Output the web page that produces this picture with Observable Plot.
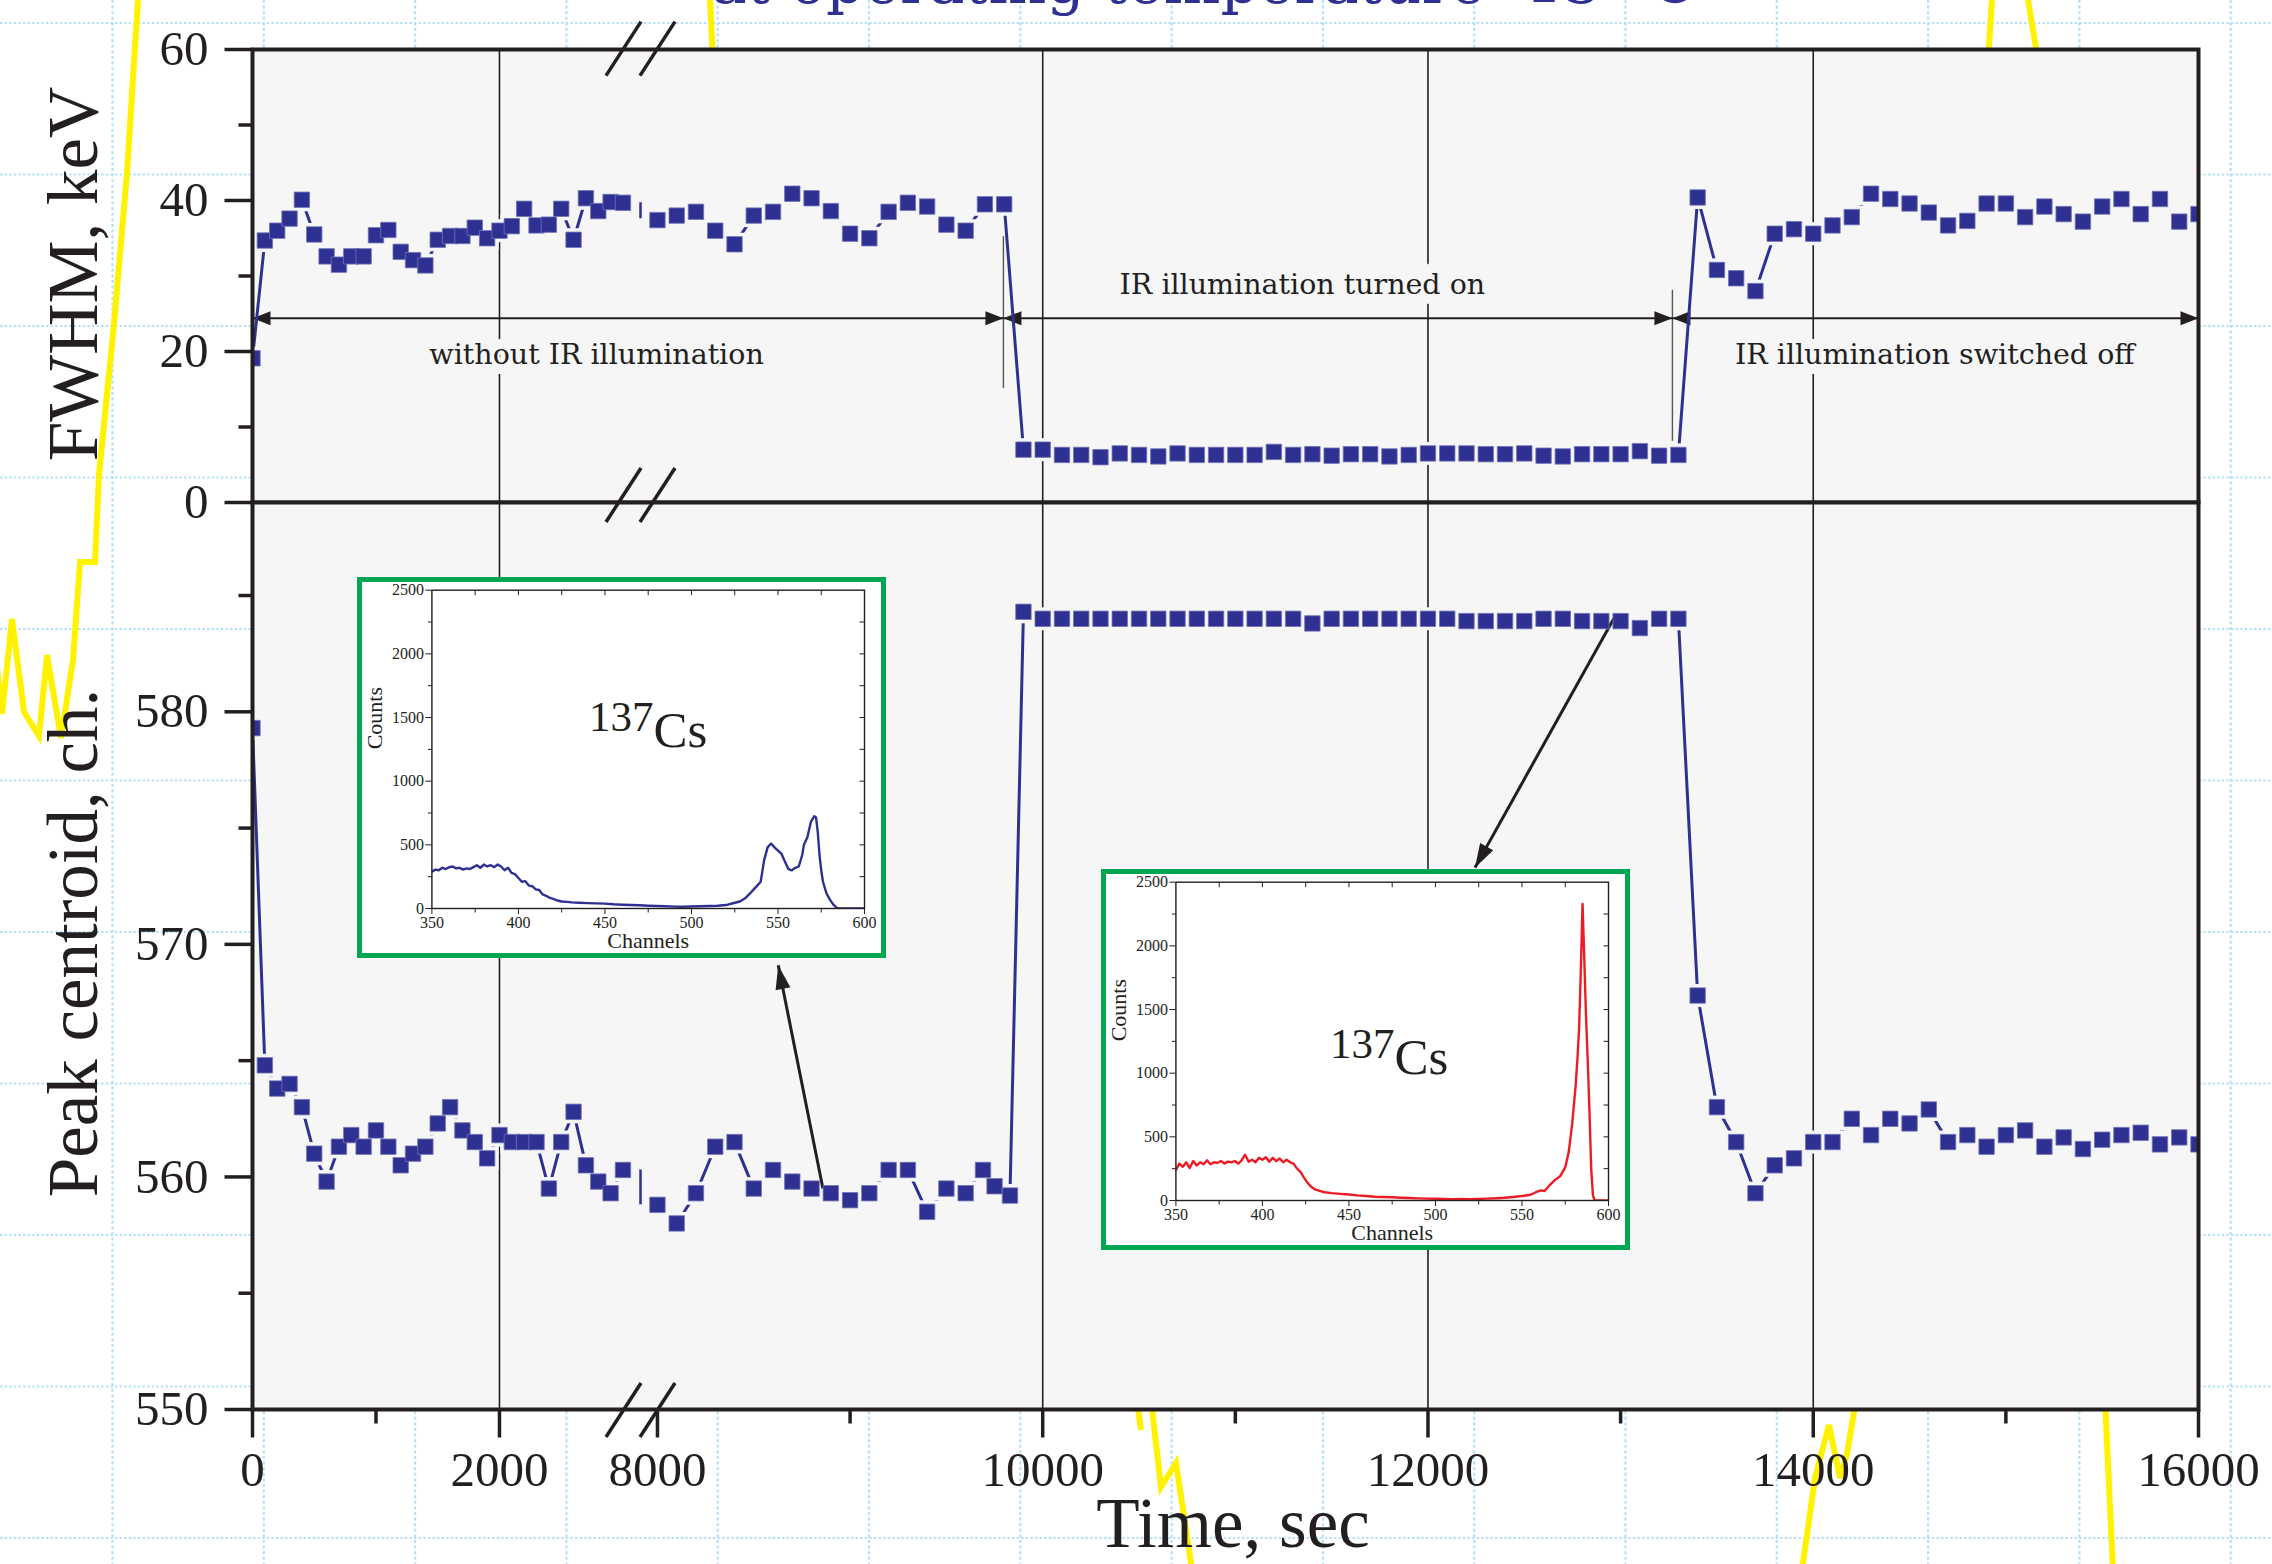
<!DOCTYPE html>
<html>
<head>
<meta charset="utf-8">
<script src="https://cdn.jsdelivr.net/npm/d3@7"></script>
<script src="https://cdn.jsdelivr.net/npm/@observablehq/plot@0.6"></script>
<style>
  html, body { margin: 0; padding: 0; background: #ffffff; }
  #page { position: relative; width: 2272px; height: 1564px; overflow: hidden; background: #ffffff; }
  #page > svg { position: absolute; left: 0; top: 0; }
  .inset { position: absolute; box-sizing: border-box; border: 5px solid #00a651; background: #ffffff; }
  .inset > svg { display: block; overflow: visible; }
</style>
</head>
<body>
<div id="page"></div>
<script>
// ================= DATA =================
const fwhmTime = [0,100,200,300,400,500,600,700,800,900,1000,1100,1200,1300,1400,1500,1600,1700,1800,1900,2000,2100,2200,2300,2400,2500,2600,2700,2800,2900,3000,
  8000,8100,8200,8300,8400,8500,8600,8700,8800,8900,9000,9100,9200,9300,9400,9500,9600,9700,9800,9900,
  10000,10100,10200,10300,10400,10500,10600,10700,10800,10900,11000,11100,11200,11300,11400,11500,11600,11700,11800,11900,
  12000,12100,12200,12300,12400,12500,12600,12700,12800,12900,13000,13100,13200,13300,13400,13500,13600,13700,13800,13900,
  14000,14100,14200,14300,14400,14500,14600,14700,14800,14900,15000,15100,15200,15300,15400,15500,15600,15700,15800,15900,16000];
const fwhmValues = [19.1,34.7,36.0,37.6,40.1,35.5,32.6,31.5,32.6,32.6,35.4,36.1,33.2,32.1,31.4,34.8,35.3,35.3,36.4,35.0,36.0,36.6,38.9,36.7,36.8,38.9,34.8,40.3,38.6,39.8,39.7,
  37.4,38.0,38.5,36.0,34.2,38.0,38.5,40.9,40.3,38.6,35.6,35.0,38.5,39.7,39.2,36.8,36.0,39.5,39.5,7.0,
  7.0,6.3,6.3,6.0,6.5,6.3,6.1,6.5,6.3,6.3,6.3,6.3,6.7,6.3,6.4,6.2,6.4,6.4,6.1,6.3,
  6.5,6.5,6.5,6.4,6.4,6.5,6.2,6.1,6.4,6.4,6.4,6.8,6.2,6.3,40.4,30.8,29.7,28.0,35.6,36.2,
  35.6,36.7,37.8,40.9,40.2,39.6,38.4,36.7,37.3,39.6,39.6,37.8,39.2,38.2,37.2,39.2,40.2,38.2,40.2,37.2,38.2];

const centroidTime = [0,100,200,300,400,500,600,700,800,900,1000,1100,1200,1300,1400,1500,1600,1700,1800,1900,2000,2100,2200,2300,2400,2500,2600,2700,2800,2900,3000,
  8000,8100,8200,8300,8400,8500,8600,8700,8800,8900,9000,9100,9200,9300,9400,9500,9600,9690,9750,9830,9900,
  10000,10100,10200,10300,10400,10500,10600,10700,10800,10900,11000,11100,11200,11300,11400,11500,11600,11700,11800,11900,
  12000,12100,12200,12300,12400,12500,12600,12700,12800,12900,13000,13100,13200,13300,13400,13500,13600,13700,13800,13900,
  14000,14100,14200,14300,14400,14500,14600,14700,14800,14900,15000,15100,15200,15300,15400,15500,15600,15700,15800,15900,16000];
const centroidValues = [579.3,564.8,563.8,564.0,563.0,561.0,559.8,561.3,561.8,561.3,562.0,561.3,560.5,561.0,561.3,562.3,563.0,562.0,561.5,560.8,561.8,561.5,561.5,561.5,559.5,561.5,562.8,560.5,559.8,559.3,560.3,
  558.8,558.0,559.3,561.3,561.5,559.5,560.3,559.8,559.5,559.3,559.0,559.3,560.3,560.3,558.5,559.5,559.3,560.3,559.6,559.2,584.3,
  584.0,584.0,584.0,584.0,584.0,584.0,584.0,584.0,584.0,584.0,584.0,584.0,584.0,584.0,583.8,584.0,584.0,584.0,584.0,584.0,
  584.0,584.0,583.9,583.9,583.9,583.9,584.0,584.0,583.9,583.9,583.9,583.6,584.0,584.0,567.8,563.0,561.5,559.3,560.5,560.8,
  561.5,561.5,562.5,561.8,562.5,562.3,562.9,561.5,561.8,561.3,561.8,562.0,561.3,561.7,561.2,561.6,561.8,561.9,561.4,561.7,561.4];

// inset spectra (channel, counts)
const darkChannels = [350,352,354,356,358,360,362,364,366,368,370,372,374,376,378,380,382,384,386,388,390,392,394,396,398,400,402,404,406,408,410,412,414,416,418,420,
  422,425,428,431,435,440,445,450,455,460,465,470,475,480,485,490,495,500,505,510,515,520,525,
  528,531,534,536,538,540,542,544,546,548,550,552,554,556,558,560,562,564,565,567,569,571,572,573,574,575,576,578,580,582,584,586,590,595,600];
const darkCounts = [290,305,300,320,310,325,330,315,320,305,315,310,325,340,320,345,330,340,325,345,330,300,320,280,270,240,210,215,180,175,150,145,110,100,85,75,
  65,55,52,48,45,42,40,38,33,30,28,25,22,20,18,15,14,16,18,20,22,27,45,
  55,80,120,150,180,210,380,480,510,480,455,430,370,310,300,320,330,420,500,560,680,725,715,600,420,300,210,120,70,30,5,0,0,0,0];
const irChannels = [350,352,354,356,358,360,362,364,366,368,370,372,374,376,378,380,382,384,386,388,390,392,394,396,398,400,402,404,406,408,410,412,414,416,418,420,
  422,424,426,428,430,433,436,440,445,450,455,460,465,470,475,480,485,490,495,500,505,510,515,520,525,530,535,540,545,550,555,
  558,561,563,566,569,572,575,577,579,581,582,583,584,585,586,587,588,589,590,591,592,596,600];
const irCounts = [240,290,265,300,255,310,275,300,285,315,285,300,295,310,290,305,300,310,290,315,360,305,320,300,335,320,340,305,335,310,330,300,320,300,290,250,
  225,180,140,110,90,75,65,58,52,47,40,35,30,27,25,22,20,17,15,14,12,10,12,10,13,15,18,22,28,35,45,
  65,80,75,120,160,190,260,380,600,900,1100,1350,1800,2330,1900,1450,1100,700,250,40,0,0,0];

// axes / ticks
const gridTimes = [2000, 10000, 12000, 14000];
const xMajorTicks = [0, 2000, 8000, 10000, 12000, 14000, 16000];
const xMinorTicks = [1000, 9000, 11000, 13000, 15000];
const fwhmMajorTicks = [0, 20, 40, 60];
const fwhmMinorTicks = [10, 30, 50];
const centroidMajorTicks = [550, 560, 570, 580];
const centroidMinorTicks = [555, 565, 575, 585];
const insetMinorChannels = [375, 425, 475, 525, 575];
const insetAllChannels = [375, 400, 425, 450, 475, 500, 525, 550, 575];
const insetMinorCounts = [250, 750, 1250, 1750, 2250];
const insetAllCounts = [250, 500, 750, 1000, 1250, 1500, 1750, 2000, 2250];

// annotations (data units)
const phaseEdges = [0, 9796, 13269, 16000];
const phaseLabelText = ["without IR illumination", "IR illumination turned on", "IR illumination switched off"];
const phaseLabelTime = [2786, 11348, 14631];
const phaseLabelLevel = [19.5, 28.8, 19.6];
const phaseSeparatorTime = [9796, 13269];
const phaseSeparatorLow = [15.1, 8.1];
const phaseSeparatorHigh = [35.2, 28.1];
const arrowLevel = 24.4;
const insetArrowFromTime = [8859, 12964];
const insetArrowFromValue = [559.5, 584.0];
const insetArrowToTime = [8627, 12244];
const insetArrowToValue = [569.1, 573.3];

// ================= LAYOUT / STYLE =================
const W = 2272, H = 1564;
const frameBox = {left: 252, right: 2198, top: 49, mid: 502, bottom: 1409};
const xDomain = [0, 3142, 7912, 16000];
const breakPx = 640;
const xRange = [frameBox.left, breakPx, breakPx, frameBox.right];
const fwhmDomain = [0, 60];
const centroidDomain = [550, 589];
const serif = "'Liberation Serif', 'Times New Roman', serif";
const labelSerif = "'DejaVu Serif', serif";
const ink = "#231f20";
const navy = "#2e3192";
const panelBg = "#f6f6f6";
const page = document.getElementById("page");

const xPx = d3.scaleLinear().domain(xDomain).range(xRange);
const yBotPx = d3.scaleLinear().domain(centroidDomain).range([frameBox.bottom, frameBox.mid]);

const tickSym = (dx, dy) => ({draw(ctx) { ctx.moveTo(0, 0); ctx.lineTo(dx, dy); }});
const headSym = (angle, len, wid) => ({draw(ctx) {
  const c = Math.cos(angle), s = Math.sin(angle);
  const bx = -len * c, by = -len * s, px = -s * wid / 2, py = c * wid / 2;
  ctx.moveTo(0, 0); ctx.lineTo(bx + px, by + py); ctx.lineTo(bx - px, by - py); ctx.closePath();
}});

function series(times, values) {
  return times.map((t, i) => ({t, v: values[i], seg: t < xDomain[1] ? "before" : "after"}));
}
function breakJoin(data) {
  const before = data.filter(d => d.seg === "before");
  const a = before[before.length - 1];
  const b = data.find(d => d.seg === "after");
  return [{t: (xDomain[1] + xDomain[2]) / 2, v1: a.v, v2: b.v}];
}
const fwhmData = series(fwhmTime, fwhmValues);
const centroidData = series(centroidTime, centroidValues);

const tickText = {fontFamily: serif, fontSize: 49, fill: ink, lineAnchor: "middle"};
function leftTicks(major, minor) {
  return [
    Plot.dot(major, {y: d => d, frameAnchor: "left", symbol: tickSym(-28, 0), r: 5, fill: "none", stroke: ink, strokeWidth: 3.5}),
    Plot.dot(minor, {y: d => d, frameAnchor: "left", symbol: tickSym(-14, 0), r: 5, fill: "none", stroke: ink, strokeWidth: 3.5}),
    Plot.text(major, {y: d => d, text: d => String(d), frameAnchor: "left", dx: -44, textAnchor: "end", ...tickText})
  ];
}
function markers(data) {
  return Plot.dot(data, {x: "t", y: "v", symbol: "square", r: 8.7, fill: navy, stroke: "#7174b8", strokeWidth: 0.8, clip: true});
}
function markerGaps(data) {
  return Plot.dot(data, {x: "t", y: "v", symbol: "square", r: 13, fill: panelBg, stroke: "none", clip: true});
}
function panel(yDomain, marginTop, marginBottom, marks) {
  const svg = Plot.plot({
    width: W, height: H,
    marginLeft: frameBox.left, marginRight: W - frameBox.right, marginTop, marginBottom,
    x: {type: "linear", domain: xDomain, range: xRange, axis: null},
    y: {type: "linear", domain: yDomain, axis: null},
    style: {background: "transparent", overflow: "visible"},
    marks
  });
  svg.style.position = "absolute"; svg.style.left = "0px"; svg.style.top = "0px";
  svg.style.background = "transparent"; svg.style.maxWidth = "none";
  return svg;
}

// ================= BACKGROUND (graph paper, marker scribbles, title) =================
const bg = d3.create("svg").attr("width", W).attr("height", H);
for (let x = 112.5; x < W; x += 151.3)
  bg.append("line").attr("x1", x).attr("x2", x).attr("y1", 0).attr("y2", H)
    .attr("stroke", "#b5e1f7").attr("stroke-width", 2.2).attr("stroke-dasharray", "3 2.6");
for (let y = 23; y < H; y += 151.5)
  bg.append("line").attr("x1", 0).attr("x2", W).attr("y1", y).attr("y2", y)
    .attr("stroke", "#b5e1f7").attr("stroke-width", 2.2).attr("stroke-dasharray", "2.4 2.2");
const scribbles = [
  [[138,0],[127,173],[114,324],[99,475],[95,562],[80,562],[73,660],[61,738],[47,655],[39,736],[24,712],[12,619],[2,714],[-6,640]],
  [[710,0],[713,60]],
  [[1992,0],[1988,60]],
  [[2028,0],[2038,60]],
  [[1137,1400],[1141,1430]],
  [[1151,1400],[1161,1487],[1176,1463],[1192,1570]],
  [[1856,1400],[1847,1454],[1840,1478],[1829,1425],[1815,1478],[1802,1570]],
  [[2105,1400],[2113,1570]]
];
scribbles.forEach(pts => bg.append("path").attr("d", d3.line()(pts))
  .attr("fill", "none").attr("stroke", "#fff200").attr("stroke-width", 6).attr("stroke-linejoin", "miter"));
bg.append("text").attr("x", 711).attr("y", 3).attr("font-family", labelSerif).attr("font-size", 60)
  .attr("fill", navy).text("at operating temperature -15 °C");
page.appendChild(bg.node());

// ================= TOP PANEL: FWHM =================
const phaseSpans = phaseEdges.slice(1).map((t2, i) => ({t1: phaseEdges[i], t2}));
const phaseLabels = phaseLabelText.map((label, i) => ({label, t: phaseLabelTime[i], v: phaseLabelLevel[i]}));
const separators = phaseSeparatorTime.map((t, i) => ({t, lo: phaseSeparatorLow[i], hi: phaseSeparatorHigh[i]}));

const topSvg = panel(fwhmDomain, frameBox.top, H - frameBox.mid, [
  Plot.frame({fill: panelBg, stroke: "none"}),
  Plot.ruleX(gridTimes, {x: d => d, stroke: ink, strokeWidth: 1.6}),
  Plot.ruleX(separators, {x: "t", y1: "lo", y2: "hi", stroke: "#555", strokeWidth: 1.4}),
  Plot.link(phaseSpans, {x1: "t1", x2: "t2", y1: arrowLevel, y2: arrowLevel, stroke: ink, strokeWidth: 2}),
  Plot.dot(phaseSpans, {x: "t1", y: arrowLevel, symbol: headSym(Math.PI, 18, 14), r: 5, fill: ink, stroke: "none"}),
  Plot.dot(phaseSpans, {x: "t2", y: arrowLevel, symbol: headSym(0, 18, 14), r: 5, fill: ink, stroke: "none"}),
  Plot.text(phaseLabels, {x: "t", y: "v", text: "label", fontFamily: labelSerif, fontSize: 28.5, fill: ink,
    stroke: panelBg, strokeWidth: 20, strokeLinejoin: "round", paintOrder: "stroke", lineAnchor: "middle"}),
  Plot.line(fwhmData, {x: "t", y: "v", z: "seg", stroke: navy, strokeWidth: 3}),
  Plot.ruleX(breakJoin(fwhmData), {x: "t", y1: "v1", y2: "v2", stroke: navy, strokeWidth: 2.5, strokeDasharray: "16 7 4 7"}),
  markerGaps(fwhmData),
  markers(fwhmData),
  Plot.frame({stroke: ink, strokeWidth: 4}),
  ...leftTicks(fwhmMajorTicks, fwhmMinorTicks)
]);
page.appendChild(topSvg);

// ================= BOTTOM PANEL: PEAK CENTROID =================
const insetArrows = insetArrowFromTime.map((t1, i) => {
  const a = {t1, v1: insetArrowFromValue[i], t2: insetArrowToTime[i], v2: insetArrowToValue[i]};
  a.angle = Math.atan2(yBotPx(a.v2) - yBotPx(a.v1), xPx(a.t2) - xPx(a.t1));
  return a;
});

const bottomSvg = panel(centroidDomain, frameBox.mid, H - frameBox.bottom, [
  Plot.frame({fill: panelBg, stroke: "none"}),
  Plot.ruleX(gridTimes, {x: d => d, stroke: ink, strokeWidth: 1.6}),
  Plot.line(centroidData, {x: "t", y: "v", z: "seg", stroke: navy, strokeWidth: 3}),
  Plot.ruleX(breakJoin(centroidData), {x: "t", y1: "v1", y2: "v2", stroke: navy, strokeWidth: 2.5}),
  markerGaps(centroidData),
  Plot.link(insetArrows, {x1: "t1", y1: "v1", x2: "t2", y2: "v2", stroke: ink, strokeWidth: 3}),
  ...insetArrows.map(a => Plot.dot([a], {x: "t2", y: "v2", symbol: headSym(a.angle, 24, 15), r: 5, fill: ink, stroke: "none"})),
  markers(centroidData),
  Plot.frame({stroke: ink, strokeWidth: 4}),
  ...leftTicks(centroidMajorTicks, centroidMinorTicks),
  Plot.dot(xMajorTicks, {x: d => d, frameAnchor: "bottom", symbol: tickSym(0, 28), r: 5, fill: "none", stroke: ink, strokeWidth: 3.5}),
  Plot.dot(xMinorTicks, {x: d => d, frameAnchor: "bottom", symbol: tickSym(0, 14), r: 5, fill: "none", stroke: ink, strokeWidth: 3.5}),
  Plot.text(xMajorTicks, {x: d => d, text: d => String(d), frameAnchor: "bottom", dy: 61, ...tickText})
]);
page.appendChild(bottomSvg);

// ================= INSETS =================
function insetPanel(left, top, channels, counts, color) {
  const box = document.createElement("div");
  box.className = "inset";
  Object.assign(box.style, {left: left + "px", top: top + "px", width: "529px", height: "381px"});
  const data = channels.map((c, i) => ({c, n: counts[i]}));
  const svg = Plot.plot({
    width: 519, height: 371, marginLeft: 69.4, marginRight: 17, marginTop: 7.7, marginBottom: 45,
    style: {background: "#ffffff", fontFamily: serif, fontSize: "16px", color: ink, overflow: "visible"},
    x: {domain: [350, 600], ticks: 5, tickFormat: d => String(d), tickSize: 6, tickPadding: 2, label: null},
    y: {domain: [0, 2500], ticks: 5, tickFormat: d => String(d), tickSize: 6, tickPadding: 2, label: null},
    marks: [
      Plot.dot(insetMinorChannels, {x: d => d, frameAnchor: "bottom", symbol: tickSym(0, 4), r: 3, fill: "none", stroke: ink, strokeWidth: 1}),
      Plot.dot(insetAllChannels, {x: d => d, frameAnchor: "top", symbol: tickSym(0, 5), r: 3, fill: "none", stroke: ink, strokeWidth: 1}),
      Plot.dot(insetMinorCounts, {y: d => d, frameAnchor: "left", symbol: tickSym(-4, 0), r: 3, fill: "none", stroke: ink, strokeWidth: 1}),
      Plot.dot(insetAllCounts, {y: d => d, frameAnchor: "right", symbol: tickSym(-5, 0), r: 3, fill: "none", stroke: ink, strokeWidth: 1}),
      Plot.line(data, {x: "c", y: "n", stroke: color, strokeWidth: 2.4, clip: true}),
      Plot.frame({stroke: ink, strokeWidth: 1.4}),
      Plot.text(["Channels"], {text: d => d, frameAnchor: "bottom", dy: 32, fontFamily: serif, fontSize: 22, fill: ink, lineAnchor: "middle"}),
      Plot.text(["Counts"], {text: d => d, frameAnchor: "left", dx: -57, rotate: -90, fontFamily: serif, fontSize: 22, fill: ink, lineAnchor: "middle"})
    ]
  });
  svg.style.maxWidth = "none";
  svg.style.overflow = "visible";
  box.appendChild(svg);
  page.appendChild(box);
}
insetPanel(357, 577, darkChannels, darkCounts, navy);
insetPanel(1101, 869, irChannels, irCounts, "#ed1c24");

// ================= OVERLAY (axis titles, breaks, nuclide labels) =================
const over = d3.create("svg").attr("width", W).attr("height", H);
const titleAttrs = sel => sel.attr("font-family", serif).attr("font-size", 71).attr("fill", ink).attr("text-anchor", "middle");
over.append("text").call(titleAttrs).attr("transform", "translate(97,274) rotate(-90)").text("FWHM, keV");
over.append("text").call(titleAttrs).attr("transform", "translate(97,943) rotate(-90)").text("Peak centroid, ch.");
over.append("text").call(titleAttrs).attr("x", 1233).attr("y", 1547).text("Time, sec");
[48.6, 495, 1410].forEach(yc => {
  [[breakPx - 34, breakPx + 1], [breakPx, breakPx + 35]].forEach(([xa, xb]) => {
    over.append("line").attr("x1", xa).attr("y1", yc + 27).attr("x2", xb).attr("y2", yc - 27)
      .attr("stroke", ink).attr("stroke-width", 3.5);
  });
});
[[589, 731], [1330, 1058]].forEach(([x, y]) => {
  const t = over.append("text").attr("x", x).attr("y", y).attr("font-family", serif).attr("fill", ink);
  t.append("tspan").attr("font-size", 43).text("137");
  t.append("tspan").attr("font-size", 51).attr("dy", 16).text("Cs");
});
page.appendChild(over.node());
</script>
</body>
</html>
